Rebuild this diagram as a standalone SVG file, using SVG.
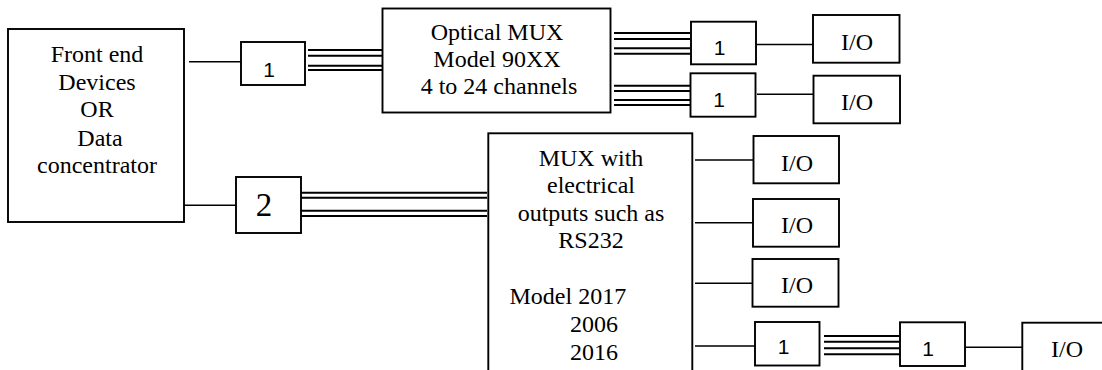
<svg xmlns="http://www.w3.org/2000/svg" width="1102" height="370" viewBox="0 0 1102 370">
<style>
.box{fill:#fff;stroke:#000;stroke-width:1.9}
.ln{fill:none;stroke:#000;stroke-width:1.5}
.bus{fill:none;stroke:#000;stroke-width:2}
.t{font-family:"Liberation Serif","Times New Roman",serif;font-size:24px;fill:#000;text-anchor:middle}
.tl{font-family:"Liberation Serif","Times New Roman",serif;font-size:24px;fill:#000}
.n{font-family:"Liberation Sans",Arial,sans-serif;font-size:21px;fill:#000;text-anchor:middle}
.big{font-family:"Liberation Serif","Times New Roman",serif;font-size:33px;fill:#000;text-anchor:middle}
</style>
<rect width="1102" height="370" fill="#fff"/>
<g id="connectors">
<path class="ln" d="M189 61.7H241M184 205.3H236"/>
<path class="bus" d="M308 50H383M308 55.7H383M308 65.7H383M308 70H383"/>
<path class="bus" d="M614 33H690M614 39H690M614 48.3H690M614 53.7H690"/>
<path class="bus" d="M614 85.7H690M614 91H690M614 100H690M614 105H690"/>
<path class="ln" d="M756 44.5H813M757 94.3H813"/>
<path class="bus" d="M301 192.7H487M301 197.7H487M297 210.7H487M297 216H487"/>
<path class="ln" d="M695 160H754M695 222.7H753M695 283.3H753M695 346H755"/>
<path class="bus" d="M824 336H900M824 341.7H900M824 348.3H900M824 354.3H900"/>
<path class="ln" d="M965 347.3H1024"/>
</g>
<g id="front-end">
<rect class="box" x="8" y="29" width="176" height="193"/>
<text class="t" x="97" y="62">Front end</text>
<text class="t" x="97" y="90">Devices</text>
<text class="t" x="97" y="117">OR</text>
<text class="t" x="100" y="146">Data</text>
<text class="t" x="97" y="173">concentrator</text>
</g>
<g id="conv1-a">
<rect class="box" x="241" y="42" width="64" height="43"/>
<text class="n" x="269" y="77">1</text>
</g>
<g id="optical-mux">
<rect class="box" x="382.5" y="8.5" width="228" height="104"/>
<text class="t" x="497" y="40">Optical MUX</text>
<text class="t" x="497" y="67">Model 90XX</text>
<text class="t" x="499" y="94">4 to 24 channels</text>
</g>
<g id="conv1-b">
<rect class="box" x="691" y="21.7" width="65" height="42.6"/>
<text class="n" x="719.5" y="55">1</text>
</g>
<g id="conv1-c">
<rect class="box" x="690.5" y="73.3" width="65" height="43.4"/>
<text class="n" x="719" y="106.5">1</text>
</g>
<g id="io-1">
<rect class="box" x="813" y="15" width="86.5" height="47.7"/>
<text class="t" x="857" y="50">I/O</text>
</g>
<g id="io-2">
<rect class="box" x="813.5" y="75.7" width="86.5" height="47.6"/>
<text class="t" x="857" y="110">I/O</text>
</g>
<g id="conv2">
<rect class="box" x="236" y="177" width="65" height="56"/>
<text class="big" x="264" y="215.5">2</text>
</g>
<g id="elec-mux">
<rect class="box" x="488.3" y="133.3" width="204" height="250"/>
<text class="t" x="591" y="165.7">MUX with</text>
<text class="t" x="591" y="193.3">electrical</text>
<text class="t" x="591" y="220.7">outputs such as</text>
<text class="t" x="591" y="248.3">RS232</text>
<text class="tl" x="509.5" y="304.3">Model 2017</text>
<text class="tl" x="570" y="332.3">2006</text>
<text class="tl" x="570" y="360">2016</text>
</g>
<g id="io-3">
<rect class="box" x="753.5" y="136" width="85.5" height="47.3"/>
<text class="t" x="797" y="170.7">I/O</text>
</g>
<g id="io-4">
<rect class="box" x="753" y="199" width="86" height="47.7"/>
<text class="t" x="797" y="233.3">I/O</text>
</g>
<g id="io-5">
<rect class="box" x="752.5" y="259" width="86" height="47.7"/>
<text class="t" x="797" y="293.3">I/O</text>
</g>
<g id="conv1-d">
<rect class="box" x="755" y="322" width="64.5" height="43.5"/>
<text class="n" x="783.5" y="354">1</text>
</g>
<g id="conv1-e">
<rect class="box" x="900" y="322.3" width="65" height="43.7"/>
<text class="n" x="928" y="355.5">1</text>
</g>
<g id="io-6">
<rect class="box" x="1022.3" y="322.7" width="100" height="70"/>
<text class="t" x="1067" y="356.7">I/O</text>
</g>
</svg>
